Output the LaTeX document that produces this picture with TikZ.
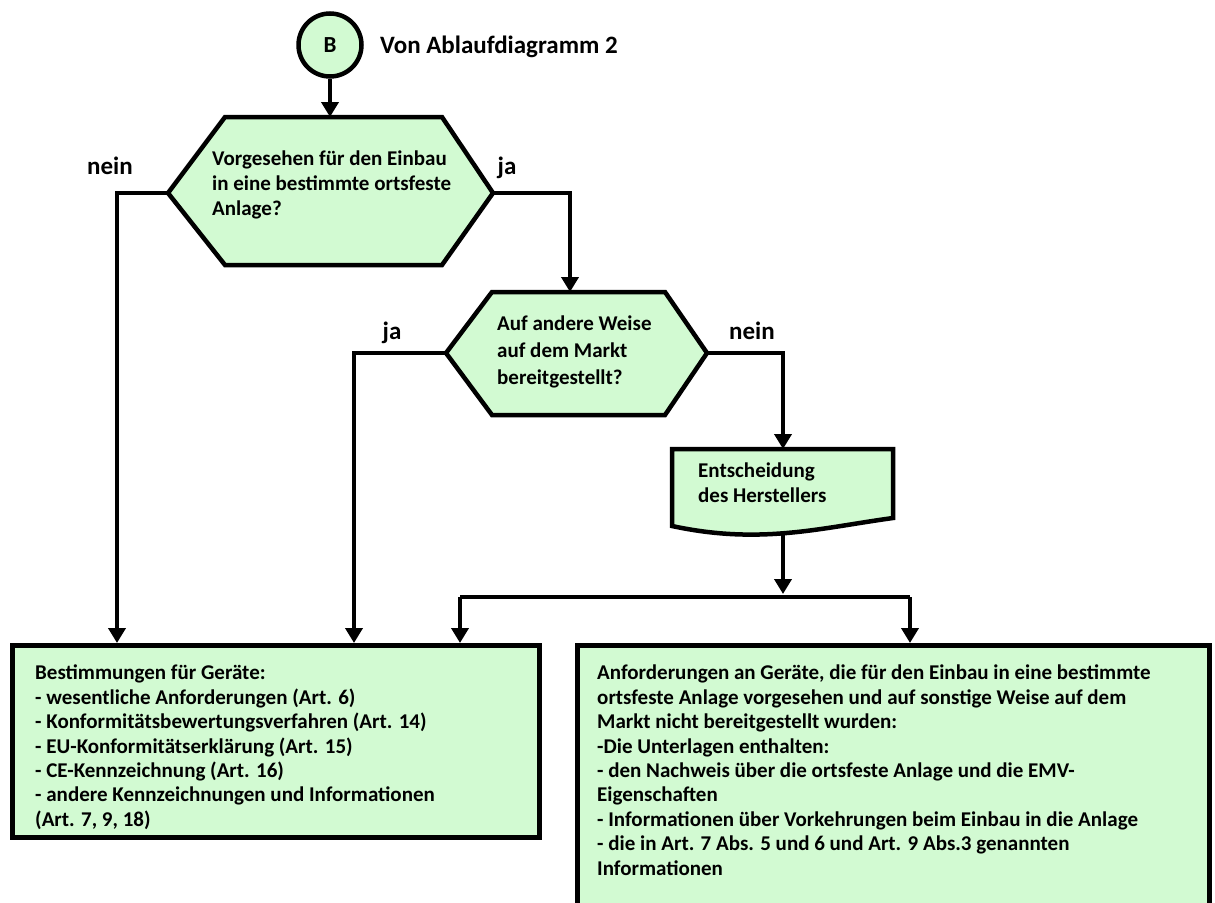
\documentclass[tikz,border=0pt]{standalone}
\usepackage{fontspec}
\setmainfont{Carlito}
\usetikzlibrary{arrows.meta,calc}
\definecolor{mint}{RGB}{210,250,210}
\begin{document}
\begin{tikzpicture}[x=1pt,y=-1pt,
  shp/.style={draw=black,fill=mint,line width=4.5pt,line join=miter},
  conn/.style={line width=4pt,-{Triangle[width=17pt,length=15pt]}},
  plainline/.style={line width=4pt},
  txt/.style={font=\bfseries\fontsize{21}{24.4}\selectfont,align=left,inner sep=0pt,anchor=north west},
  lbl/.style={font=\bfseries\fontsize{25}{28}\selectfont,inner sep=0pt,anchor=base}]
\useasboundingbox (0,0) rectangle (1215,902);

% connector circle
\node[circle,shp,minimum size=63pt,inner sep=0pt,font=\bfseries\fontsize{23}{25}\selectfont] (B) at (330,45) {B};
\node[lbl,anchor=base west] (von) at (380,53) {Von Ablaufdiagramm 2};

% hexagon 1
\draw[shp] (168,193) coordinate (h1w) -- (225,117) -- (442,117) -- (493,193) coordinate (h1e) -- (442,265) -- (225,265) -- cycle;
\coordinate (h1n) at (330,117);
\node[txt,font=\bfseries\fontsize{21}{25}\selectfont] (t1) at (212,150.5) {Vorgesehen für den Einbau\\in eine bestimmte ortsfeste\\Anlage?};

% hexagon 2
\draw[shp] (446,353) coordinate (h2w) -- (492,292) -- (665,292) -- (707,353) coordinate (h2e) -- (665,415) -- (492,415) -- cycle;
\coordinate (h2n) at (570,292);
\node[txt,font=\bfseries\fontsize{21}{27}\selectfont] (t2) at (497,315.5) {Auf andere Weise\\auf dem Markt\\bereitgestellt?};

% document
\draw[shp] (672,449) -- (893,449) -- (893,518) .. controls (820,528) and (760,545) .. (672,526) -- cycle;
\coordinate (dn) at (783,449);
\coordinate (ds) at (783,533);
\node[txt,font=\bfseries\fontsize{21}{25}\selectfont] (t3) at (698,462.5) {Entscheidung\\des Herstellers};

% boxes
\node[shp,rectangle,anchor=north west,minimum width=527pt,minimum height=192pt,inner sep=0pt] (box1) at (10,643) {};
\node[shp,rectangle,anchor=north west,minimum width=632pt,minimum height=270pt,inner sep=0pt] (box2) at (575,643) {};

\node[txt] (t4) at (35,665) {Bestimmungen für Geräte:\\
- wesentliche Anforderungen (Art. 6)\\
- Konformitätsbewertungsverfahren (Art. 14)\\
- EU-Konformitätserklärung (Art. 15)\\
- CE-Kennzeichnung (Art. 16)\\
- andere Kennzeichnungen und Informationen\\
(Art. 7, 9, 18)};

\node[txt] (t5) at (597,665) {Anforderungen an Geräte, die für den Einbau in eine bestimmte\\
ortsfeste Anlage vorgesehen und auf sonstige Weise auf dem\\
Markt nicht bereitgestellt wurden:\\
-Die Unterlagen enthalten:\\
- den Nachweis über die ortsfeste Anlage und die EMV-\\
Eigenschaften\\
- Informationen über Vorkehrungen beim Einbau in die Anlage\\
- die in Art. 7 Abs. 5 und 6 und Art. 9 Abs.3 genannten\\
Informationen};

% labels
\node[lbl] (n1) at (110,174) {nein};
\node[lbl] (j1) at (507,174) {ja};
\node[lbl] (j2) at (392,339) {ja};
\node[lbl] (n2) at (752,339) {nein};

% connectors
\draw[conn] (B.south) -- (h1n);
\coordinate (k1) at (117,193);
\draw[conn] (h1w) -- (k1) -- (k1 |- box1.north);
\coordinate (k2) at (570,193);
\draw[conn] (h1e) -- (k2) -- (h2n);
\coordinate (k3) at (354,353);
\draw[conn] (h2w) -- (k3) -- (k3 |- box1.north);
\coordinate (k4) at (783,353);
\draw[conn] (h2e) -- (k4) -- (dn);
\coordinate (m) at (783,597);
\draw[conn] (ds) -- ($(m)+(0,-3)$);
\coordinate (ml) at (460,597);
\coordinate (mr) at (910,597);
\draw[plainline] (ml) -- (mr);
\draw[conn] (ml) -- (ml |- box1.north);
\draw[conn] (mr) -- (mr |- box2.north);
\end{tikzpicture}
\end{document}
